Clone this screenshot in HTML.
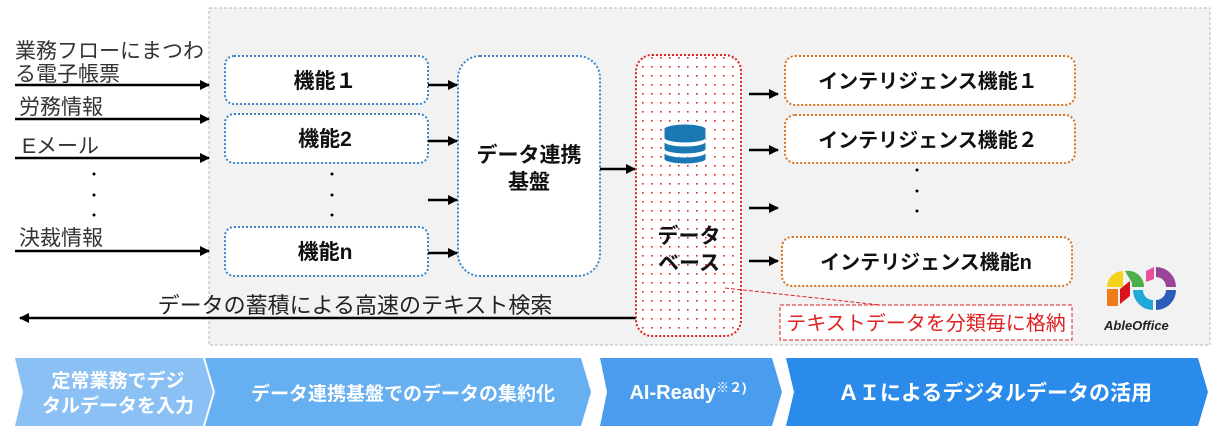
<!DOCTYPE html>
<html><head><meta charset="utf-8"><style>
body{margin:0;background:#fff;}
svg text{font-family:"Liberation Sans","Noto Sans CJK JP",sans-serif;}
</style></head><body>
<svg width="1220" height="430" viewBox="0 0 1220 430" xmlns="http://www.w3.org/2000/svg">
<defs>
<marker id="ar" markerWidth="10" markerHeight="10" refX="9" refY="5" orient="auto" markerUnits="userSpaceOnUse"><path d="M0,0 L10,5 L0,10 z" fill="#000"/></marker>
<pattern id="dots" width="9" height="9" patternUnits="userSpaceOnUse"><rect x="3" y="3" width="1.6" height="1.6" fill="#d22"/></pattern>
</defs>
<rect x="209" y="8" width="1001" height="337" fill="#f2f2f2" stroke="#bbb" stroke-dasharray="3,2"/>
<g font-size="21" fill="#333">
<text x="15" y="58">業務フローにまつわ</text>
<text x="15" y="81">る電子帳票</text>
<text x="19" y="114">労務情報</text>
<text x="22" y="153">Eメール</text>
<text x="19" y="245">決裁情報</text>
</g>
<g stroke="#000" stroke-width="2.5" marker-end="url(#ar)">
<line x1="15" y1="85" x2="209" y2="85"/>
<line x1="15" y1="119" x2="209" y2="119"/>
<line x1="15" y1="158" x2="209" y2="158"/>
<line x1="15" y1="251" x2="209" y2="251"/>
</g>
<g fill="#000"><circle cx="94" cy="174" r="1.5"/><circle cx="94" cy="195" r="1.5"/><circle cx="94" cy="215" r="1.5"/>
<circle cx="332" cy="174" r="1.5"/><circle cx="332" cy="195" r="1.5"/><circle cx="332" cy="215" r="1.5"/>
<circle cx="917" cy="170" r="1.5"/><circle cx="917" cy="191" r="1.5"/><circle cx="917" cy="211" r="1.5"/></g>
<g fill="#fff" stroke="#3a86c8" stroke-width="2" stroke-dasharray="2,2">
<rect x="225" y="56" width="203" height="48" rx="9"/>
<rect x="225" y="114" width="203" height="49" rx="9"/>
<rect x="225" y="227" width="203" height="49" rx="9"/>
<rect x="458" y="56" width="142" height="220" rx="22"/>
</g>
<g font-size="21" font-weight="bold" fill="#111" text-anchor="middle">
<text x="325" y="88">機能１</text>
<text x="325" y="146">機能2</text>
<text x="325" y="259">機能n</text>
<text x="529" y="162">データ連携</text>
<text x="529" y="189">基盤</text>
</g>
<g stroke="#000" stroke-width="2.5" marker-end="url(#ar)">
<line x1="428" y1="85" x2="457" y2="85"/>
<line x1="428" y1="141" x2="457" y2="141"/>
<line x1="428" y1="200" x2="457" y2="200"/>
<line x1="428" y1="253" x2="457" y2="253"/>
<line x1="600" y1="169" x2="635" y2="169"/>
<line x1="749" y1="94" x2="778" y2="94"/>
<line x1="749" y1="150" x2="778" y2="150"/>
<line x1="749" y1="208" x2="778" y2="208"/>
<line x1="749" y1="261" x2="778" y2="261"/>
<line x1="636" y1="318" x2="20" y2="318"/>
</g>
<text x="355" y="313" font-size="22" fill="#222" text-anchor="middle">データの蓄積による高速のテキスト検索</text>
<rect x="636" y="55" width="105" height="281" rx="16" fill="#fff"/>
<rect x="636" y="55" width="105" height="281" rx="16" fill="url(#dots)" stroke="#d22" stroke-width="2" stroke-dasharray="2,2"/>
<g fill="#1a78b4" stroke="#fff" stroke-width="1">
<path d="M664,152 v7 a21,5 0 0 0 42,0 v-7 a21,5 0 0 1 -42,0z"/>
<path d="M664,141 v8 a21,5 0 0 0 42,0 v-8 a21,5 0 0 1 -42,0z"/>
<path d="M664,129 v9 a21,5 0 0 0 42,0 v-9 a21,5 0 0 0 -42,0z"/>
</g>
<g font-size="21" font-weight="bold" fill="#111" text-anchor="middle">
<text x="689" y="243">データ</text>
<text x="689" y="270">ベース</text>
</g>
<line x1="725" y1="288" x2="880" y2="305" stroke="#d22" stroke-dasharray="4,2"/>
<rect x="780" y="305" width="292" height="35" fill="#fff" stroke="#d22" stroke-dasharray="4,2"/>
<text x="926" y="330" font-size="20" fill="#d22" text-anchor="middle">テキストデータを分類毎に格納</text>
<g fill="#fff" stroke="#d9731f" stroke-width="2" stroke-dasharray="2,2">
<rect x="785" y="56" width="290" height="49" rx="10"/>
<rect x="785" y="115" width="290" height="48" rx="10"/>
<rect x="782" y="237" width="290" height="49" rx="10"/>
</g>
<g font-size="20" font-weight="bold" fill="#111" text-anchor="middle">
<text x="928" y="88">インテリジェンス機能１</text>
<text x="928" y="147">インテリジェンス機能２</text>
<text x="926" y="269">インテリジェンス機能n</text>
</g>
<g>
<path d="M1107,287 a16,16 0 0 1 16,-16 v16 z" fill="#f3d31c"/>
<rect x="1107" y="289" width="11" height="17" fill="#ef7d17"/>
<path d="M1120,289 l10,-8 v15 l-10,8 z" fill="#d7141e"/>
<path d="M1125,271 a16,16 0 0 1 19,16 h-12 v-4 z" fill="#4bb04a"/>
<path d="M1146,271 l8,-4 v12 l-8,3z" fill="#e8509b"/>
<path d="M1156,267 a20,20 0 0 1 20,20 h-10 a10,10 0 0 0 -10,-10z" fill="#9a4498"/>
<path d="M1133,290 h10 a10,10 0 0 0 10,10 v10 a20,20 0 0 1 -20,-20z" fill="#20a8d8"/>
<path d="M1156,300 a10,10 0 0 0 10,-10 h10 a20,20 0 0 1 -20,20z" fill="#2a5cb8"/>
<text x="1104" y="330" font-size="13" font-weight="bold" fill="#222" font-style="italic">AbleOffice</text>
</g>
<path d="M15,358 H203 L213,392 L203,426 H15 L23,392 Z" fill="#8bc0f5"/>
<path d="M205,358 H581 L591,392 L581,426 H205 L215,392 Z" fill="#66aff0"/>
<path d="M600,358 H772 L782,392 L772,426 H600 L607,392 Z" fill="#4a9dec"/>
<path d="M786,358 H1198 L1208,392 L1198,426 H786 L794,392 Z" fill="#2a8bea"/>
<g font-size="19" font-weight="bold" fill="#fff" text-anchor="middle">
<text x="118" y="387">定常業務でデジ</text>
<text x="118" y="412">タルデータを入力</text>
<text x="403" y="400">データ連携基盤でのデータの集約化</text>
<text x="688" y="399" font-size="20">AI-Ready<tspan font-size="13" dy="-7">※２)</tspan></text>
<text x="995" y="400" font-size="21">ＡＩによるデジタルデータの活用</text>
</g>
</svg>
</body></html>
